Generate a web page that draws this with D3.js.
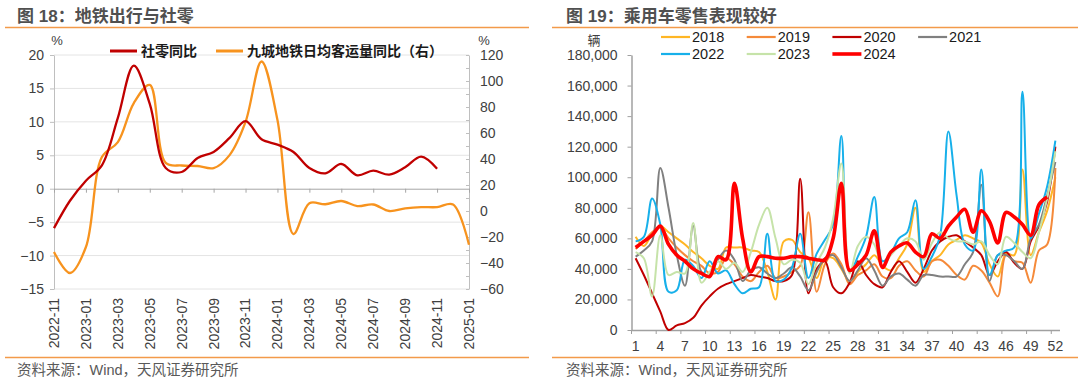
<!DOCTYPE html>
<html>
<head>
<meta charset="utf-8">
<script src="https://cdn.jsdelivr.net/npm/d3@7"></script>
<style>
  body { margin: 0; background: #fff; }
  svg { display: block; }
  text { font-family: "Liberation Sans", Arial, "Noto Sans CJK SC", sans-serif; }
</style>
</head>
<body>
<svg id="chart" width="1080" height="378"></svg>
<script>
// ---- left chart data: 图18 ----
const months = ['2022-11', '2022-12', '2023-01', '2023-02', '2023-03', '2023-04', '2023-05', '2023-06', '2023-07',
  '2023-08', '2023-09', '2023-10', '2023-11', '2023-12', '2024-01', '2024-02', '2024-03', '2024-04', '2024-05',
  '2024-06', '2024-07', '2024-08', '2024-09', '2024-10', '2024-11', '2024-12', '2025-01'];
const monthTicks = ['2022-11', '2023-01', '2023-03', '2023-05', '2023-07', '2023-09', '2023-11',
  '2024-01', '2024-03', '2024-05', '2024-07', '2024-09', '2024-11', '2025-01'];
const retailYoy = [-5.9, -1.8, 1.2, 3.5, 10.6, 18.4, 12.7, 3.1, 2.5, 4.6, 5.5, 7.6, 10.1, 7.4, 6.6, 5.5,
  3.1, 2.3, 3.7, 2.0, 2.7, 2.1, 3.2, 4.8, 3.0, null, null];
const metroYoy = [-31.5, -47.7, -27.7, 41.5, 53, 83, 97, 37, 35, 34.6, 33, 43, 68.5, 115, 70, -17.7,
  6, 5.2, 7.7, 3.8, 5, 0, 2, 3, 3, 5, -26];
const leftTicks = [-15, -10, -5, 0, 5, 10, 15, 20];
const rightTicks = [-60, -50, -40, -30, -20, -10, 0, 10, 20, 30, 40, 50, 60, 70, 80, 90, 100, 110, 120];

// ---- right chart data: 图19 ----
const weeks = d3.range(1, 53);
const weekTicks = [1, 4, 7, 10, 13, 16, 19, 22, 25, 28, 31, 34, 37, 40, 43, 46, 49, 52];
const unitTicks = [0, 20000, 40000, 60000, 80000, 100000, 120000, 140000, 160000, 180000];
const s2018 = [61, 55, 63, 68, 64, 60, 56, 51, 47, 42, 40, 54, 54, 54, 52, 51, 38, 20, 58, 59, 51, 47, 34, 47, 47, 40,
  32, 38, 43, 49, 42, 39, 47, 56, 80, 38, 45, 49, 56, 59, 62, 60, 57, 43, 35, 50, 49, 105, 49, 64, 78, 100];
const s2019 = [53, 58, 64, 67, 60, 54, 49, 45, 42, 37, 38, 47, 43, 35, 32, 38, 42, 34, 35, 38, 42, 77, 25, 43, 50, 43,
  30, 36, 39, 43, 35, 34, 42, 45, 39, 35, 45, 46, 42, 36, 33, 42, 39, 31, 22, 49, 45, 44, 31, 52, 56, 106];
const s2020 = [47, 36, 24, 12, 0, 3, 4.5, 8, 16, 22, 27, 30, 32, 34, 36, 35, 34, 32, 32, 36, 99, 24, 40, 45, 28, 24,
  31, 45, 36, 30, 28, 38, 45, 38, 31, 40, 52, 58, 61, 62, 58, 54, 49, 36, 45, 51, 44, 40, 58, 68, 84, 120];
const s2021 = [48, 52, 58, 106, 80, 49, 29, 68, 38, 36, 46, 52, 46, 32, 39, 41, 37, 34, 37, 41, 35, 26, 38, 47, 49, 41,
  32, 39, 47, 39, 29, 35, 37, 33, 29, 36, 36, 35, 35, 35, 43, 51, 95, 32, 49, 49, 45, 40, 60, 69, 88, 110];
const s2022 = [58, 61, 86, 69, 25, 26, 46, 42, 34, 45, 37, 39, 30, 24, 27, 28, 63, 32, 33, 41, 63, 34, 50, 59, 69, 127,
  38, 48, 61, 87, 45, 50, 60, 64, 85, 40, 48, 62, 130, 88, 56, 52, 105, 36, 49, 52, 54, 156, 60, 76, 94, 124];
const s2023 = [51, 47, 22, 62, 36, 38, 37, 70, 31, 38, 45, 40, 44, 38, 51, 69, 80, 60, 43, 46, 44, 30, 44, 54, 73, 109,
  37, 55, 61, 56, 42, 49, 55, 60, 58, 46, 57, 64, 60, 58, 58, 56, 58, 49, 43, 61, 57, 51, 47, 64, 86, 117];
const s2024 = [54, 58, 62, 68, 56, 49, 45, 40, 37, 35, 48, 46, 96, 60, 38, 48, 48, 47, 47, 48, 48, 47, 46, 46, 60, 96,
  39, 43, 49, 65, 41, 51, 55, 57, 51, 48, 63, 60, 68, 74, 79, 64, 78, 71, 57, 77, 74, 69, 62, 82, 87, null];

const seriesNames = ['2018', '2019', '2020', '2021', '2022', '2023', '2024'];
const seriesValues = [s2018, s2019, s2020, s2021, s2022, s2023, s2024];
const seriesColors = ['#FFB624', '#F58A3A', '#C00000', '#808080', '#17B0EA', '#C6E3A9', '#FF0000'];
const seriesWidths = [2, 2, 2, 2, 2, 2, 3.6];

const svg = d3.select('#chart');
const textColor = '#404040';

// ---------------- headers / footers ----------------
const panels = [
  { title: '图 18：地铁出行与社零', tx: 17, line: [5, 529] },
  { title: '图 19：乘用车零售表现较好', tx: 566, line: [552, 1078] },
];
panels.forEach((p) => {
  svg.append('text').attr('x', p.tx).attr('y', 22).text(p.title)
    .style('font-size', '17px').style('font-weight', 'bold').attr('fill', '#505050');
  svg.append('line').attr('x1', p.line[0]).attr('x2', p.line[1]).attr('y1', 27.5).attr('y2', 27.5)
    .attr('stroke', '#F39A4A').attr('stroke-width', 1.3);
  svg.append('line').attr('x1', p.line[0]).attr('x2', p.line[1]).attr('y1', 357.5).attr('y2', 357.5)
    .attr('stroke', '#F39A4A').attr('stroke-width', 1.3);
  svg.append('text').attr('x', p.tx).attr('y', 375).text('资料来源：Wind，天风证券研究所')
    .style('font-size', '14.5px').attr('fill', '#595959');
});

// ---------------- left chart ----------------
const xL = d3.scalePoint().domain(months).range([54, 469]);
const yL = d3.scaleLinear().domain([-15, 20]).range([289, 55]);
const yR = d3.scaleLinear().domain([-60, 120]).range([289, 55]);

const left = svg.append('g');

// grid lines
left.selectAll('line.grid').data(leftTicks.filter((d) => d !== 0)).enter().append('line')
  .attr('x1', 54).attr('x2', 469).attr('y1', (d) => yL(d)).attr('y2', (d) => yL(d))
  .attr('stroke', '#E4E4E4').attr('stroke-width', 1);

const styleAxis = (g, lineColor) => {
  g.selectAll('path').attr('stroke', lineColor);
  g.selectAll('line').attr('stroke', lineColor);
  g.selectAll('text').attr('fill', textColor).style('font-size', '14px')
    .style('font-family', '"Liberation Sans", Arial, sans-serif');
};

left.append('g').attr('transform', 'translate(54,0)')
  .call(d3.axisLeft(yL).tickValues(leftTicks).tickSize(4).tickPadding(6).tickSizeOuter(0))
  .call((g) => styleAxis(g, '#BFBFBF'));

left.append('g').attr('transform', 'translate(469,0)')
  .call(d3.axisRight(yR).tickValues(rightTicks).tickSizeInner(-3).tickSizeOuter(0).tickPadding(11)
    .tickFormat((d) => (d % 20 === 0 ? d3.format('')(d) : '')))
  .call((g) => styleAxis(g, '#BFBFBF'));

left.append('g').attr('transform', `translate(0,${yL(0)})`)
  .call(d3.axisBottom(xL).tickValues(monthTicks).tickSize(4).tickSizeOuter(0).tickFormat(''))
  .call((g) => styleAxis(g, '#A6A6A6'));

left.selectAll('text.mlabel').data(monthTicks).enter().append('text')
  .attr('transform', (d) => `translate(${xL(d)},298) rotate(-90)`)
  .attr('text-anchor', 'end').attr('dy', '0.35em')
  .style('font-size', '14px').attr('fill', textColor).text((d) => d);

svg.append('text').attr('x', 57).attr('y', 45).attr('text-anchor', 'middle')
  .style('font-size', '13px').attr('fill', textColor).text('%');
svg.append('text').attr('x', 484).attr('y', 45).attr('text-anchor', 'middle')
  .style('font-size', '13px').attr('fill', textColor).text('%');

const smooth = d3.curveCatmullRom.alpha(0.5);
const lineRetail = d3.line().defined((d) => d != null)
  .x((d, i) => xL(months[i])).y((d) => yL(d)).curve(smooth);
const lineMetro = d3.line().defined((d) => d != null)
  .x((d, i) => xL(months[i])).y((d) => yR(d)).curve(smooth);

left.append('path').attr('d', lineMetro(metroYoy)).attr('fill', 'none')
  .attr('stroke', '#F7931E').attr('stroke-width', 2.3);
left.append('path').attr('d', lineRetail(retailYoy)).attr('fill', 'none')
  .attr('stroke', '#C00000').attr('stroke-width', 2.3);

// legend
const leftLegend = [
  { name: '社零同比', color: '#C00000', x: 110 },
  { name: '九城地铁日均客运量同比（右）', color: '#F7931E', x: 216 },
];
leftLegend.forEach((d) => {
  svg.append('line').attr('x1', d.x).attr('x2', d.x + 27).attr('y1', 51).attr('y2', 51)
    .attr('stroke', d.color).attr('stroke-width', 3);
  svg.append('text').attr('x', d.x + 31).attr('y', 56).text(d.name)
    .style('font-size', '14px').style('font-weight', 'bold').attr('fill', '#1a1a1a');
});

// ---------------- right chart ----------------
const xW = d3.scaleBand().domain(weeks).range([631.5, 1059.5]);
const yW = d3.scaleLinear().domain([0, 180000]).range([330, 55]);
const right = svg.append('g');

right.append('g').attr('transform', 'translate(631.5,0)')
  .call(d3.axisLeft(yW).tickValues(unitTicks).tickSize(4).tickPadding(10).tickSizeOuter(0).tickFormat(d3.format(',')))
  .call((g) => styleAxis(g, '#A0A0A0'))
  .call((g) => g.select('path').attr('stroke-width', 1.5));

right.append('g').attr('transform', 'translate(0,330)')
  .call(d3.axisBottom(xW).tickValues(weekTicks).tickSize(0).tickPadding(11).tickSizeOuter(0))
  .call((g) => styleAxis(g, '#A0A0A0'))
  .call((g) => g.select('path').attr('stroke-width', 1.5));

right.selectAll('line.wtick').data(weekTicks).enter().append('line')
  .attr('x1', (d) => xW(d)).attr('x2', (d) => xW(d)).attr('y1', 330).attr('y2', 334)
  .attr('stroke', '#A0A0A0');

svg.append('text').attr('x', 594).attr('y', 45).attr('text-anchor', 'middle')
  .style('font-size', '13px').attr('fill', textColor).text('辆');

const lineWeek = d3.line().defined((d) => d != null)
  .x((d, i) => xW(weeks[i]) + xW.bandwidth() / 2).y((d) => yW(d * 1000)).curve(smooth);

seriesValues.forEach((vals, k) => {
  right.append('path').attr('d', lineWeek(vals)).attr('fill', 'none')
    .attr('stroke', seriesColors[k]).attr('stroke-width', seriesWidths[k])
    .attr('stroke-linejoin', 'round');
});

// legend 4 columns x 2 rows
seriesNames.forEach((name, k) => {
  const lx = 661 + (k % 4) * 85.7;
  const ly = k < 4 ? 37 : 54;
  svg.append('line').attr('x1', lx).attr('x2', lx + 29).attr('y1', ly).attr('y2', ly)
    .attr('stroke', seriesColors[k]).attr('stroke-width', k === 6 ? 3.6 : 2.2);
  svg.append('text').attr('x', lx + 31).attr('y', ly + 5).text(name)
    .style('font-size', '14.5px').attr('fill', '#1a1a1a');
});
</script>
</body>
</html>
